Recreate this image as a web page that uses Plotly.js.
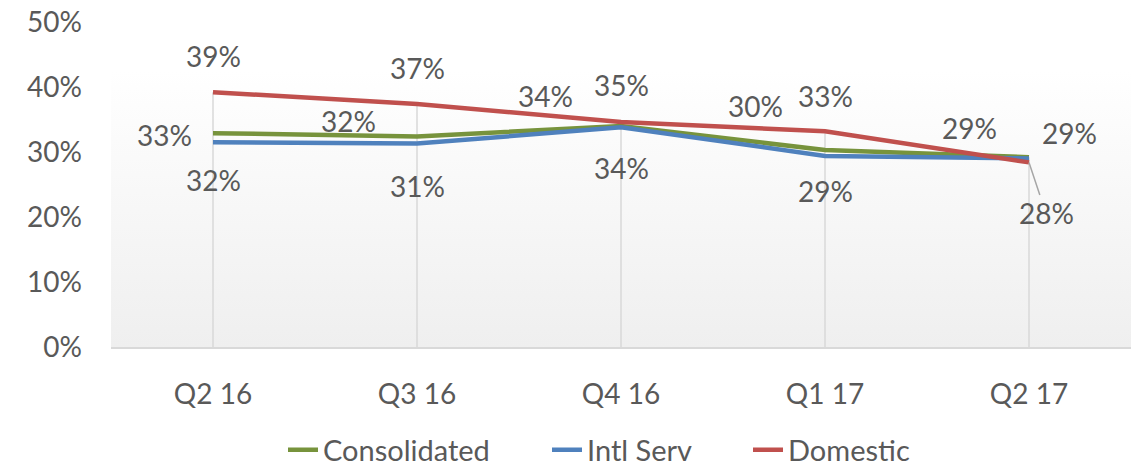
<!DOCTYPE html>
<html>
<head>
<meta charset="utf-8">
<script src="https://cdn.plot.ly/plotly-3.0.1.min.js"></script>
<style>html,body{margin:0;padding:0;background:#fff;}#chart{width:1140px;height:475px;}</style>
</head>
<body>
<div id="chart"></div>
<script>
// ---- data ----
const categories = ["Q2 16", "Q3 16", "Q4 16", "Q1 17", "Q2 17"];
const consolidated = [32.9, 32.4, 34.0, 30.3, 29.2];
const intlServ = [31.5, 31.3, 33.8, 29.4, 29.0];
const domestic = [39.2, 37.4, 34.6, 33.2, 28.4];
const yTicks = [0, 10, 20, 30, 40, 50];

// ---- styles ----
const FONT = "Lato, 'Open Sans', sans-serif";
const TXT = "#595959";
const colors = { cons: "#77933c", intl: "#4f81bd", dom: "#c0504d" };

// label offsets (pixels) per series per category
const consOff = [[-49, -2], [-69, 15], [-76, 30], [-70, 44], [-60, 29]];
const intlOff = [[0, -38], [0, -42], [0, -41], [0, -35], [40, 26]];
const domOff  = [[0, 36], [0, 36], [0, 37], [0, 35], null];

// drop lines from the highest point of each category down to the axis
const dropX = [], dropY = [];
categories.forEach((c, i) => {
  const top = Math.max(consolidated[i], intlServ[i], domestic[i]);
  dropX.push(c, c, null);
  dropY.push(0, top, null);
});

const traces = [
  { x: dropX, y: dropY, mode: "lines", line: { color: "#d9d9d9", width: 1.5 },
    showlegend: false, hoverinfo: "skip" },
  { x: categories, y: consolidated, name: "Consolidated", mode: "lines",
    line: { color: colors.cons, width: 4.5 }, legend: "legend" },
  { x: categories, y: intlServ, name: "Intl Serv", mode: "lines",
    line: { color: colors.intl, width: 4.5 }, legend: "legend2" },
  { x: categories, y: domestic, name: "Domestic", mode: "lines",
    line: { color: colors.dom, width: 4.5 }, legend: "legend3" }
];

const annotations = [];
function addLabels(vals, offs) {
  vals.forEach((v, i) => {
    if (!offs[i]) return;
    annotations.push({
      x: categories[i], y: v, xref: "x", yref: "y",
      text: Math.round(v) + "%", showarrow: false,
      xshift: offs[i][0], yshift: offs[i][1],
      font: { family: FONT, size: 28, color: TXT }
    });
  });
}
addLabels(consolidated, consOff);
addLabels(intlServ, intlOff);
addLabels(domestic, domOff);
// Domestic Q2 17 label with leader line
annotations.push({
  x: categories[4], y: domestic[4], xref: "x", yref: "y",
  text: Math.round(domestic[4]) + "%", showarrow: true,
  arrowhead: 0, arrowwidth: 1.5, arrowcolor: "#a6a6a6",
  ax: 17, ay: 51, standoff: 0,
  font: { family: FONT, size: 28, color: TXT }
});

const gradSvg = "<svg xmlns='http://www.w3.org/2000/svg' width='10' height='100' preserveAspectRatio='none'>" +
  "<defs><linearGradient id='g' x1='0' y1='0' x2='0' y2='1'>" +
  "<stop offset='0' stop-color='#ffffff'/><stop offset='0.15' stop-color='#ffffff'/>" +
  "<stop offset='1' stop-color='#efefef'/></linearGradient></defs>" +
  "<rect width='10' height='100' fill='url(#g)'/></svg>";

function legendAt(px) {
  return {
    orientation: "h", xref: "container", yref: "container",
    x: px / 1140, xanchor: "left", y: (475 - 450) / 475, yanchor: "middle",
    font: { family: FONT, size: 29, color: TXT }, bgcolor: "rgba(0,0,0,0)",
    borderwidth: 0
  };
}

const layout = {
  width: 1140, height: 475,
  margin: { l: 111, r: 9, t: 22, b: 128, autoexpand: false },
  paper_bgcolor: "#ffffff",
  plot_bgcolor: "rgba(0,0,0,0)",
  font: { family: FONT, size: 28, color: TXT },
  images: [{
    source: "data:image/svg+xml;charset=utf-8," + encodeURIComponent(gradSvg),
    xref: "paper", yref: "paper", x: 0, y: 1, sizex: 1, sizey: 1,
    sizing: "stretch", layer: "below", xanchor: "left", yanchor: "top"
  }],
  xaxis: {
    type: "category", range: [-0.5, 4.5], showgrid: false, zeroline: false,
    showline: true, linecolor: "#d9d9d9", linewidth: 1.5, ticks: "",
    ticklabelstandoff: 22,
    tickfont: { family: FONT, size: 28, color: TXT }
  },
  yaxis: {
    range: [0, 50], tickvals: yTicks, ticktext: yTicks.map(t => t + "%"),
    showgrid: false, zeroline: false, showline: false, ticks: "",
    ticklabelstandoff: 28,
    tickfont: { family: FONT, size: 28, color: TXT }
  },
  showlegend: true,
  legend: legendAt(283),
  legend2: legendAt(547),
  legend3: legendAt(748),
  annotations: annotations
};

Plotly.newPlot("chart", traces, layout, { displayModeBar: false, staticPlot: true });
</script>
</body>
</html>
